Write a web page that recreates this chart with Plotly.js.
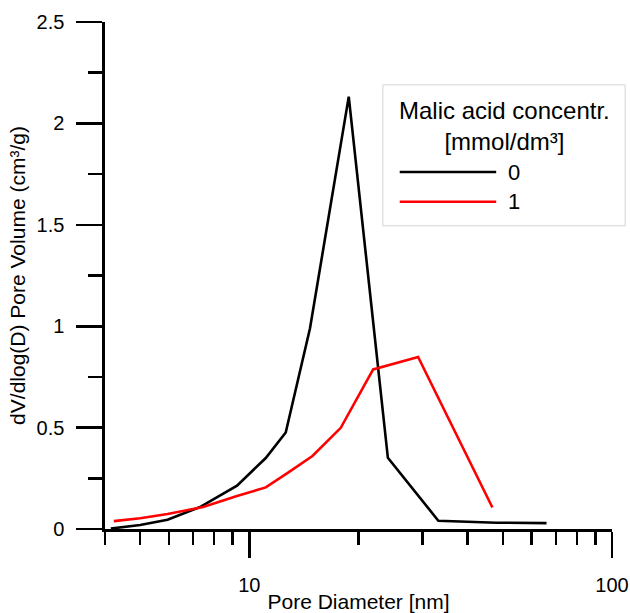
<!DOCTYPE html>
<html>
<head>
<meta charset="utf-8">
<script src="https://cdn.plot.ly/plotly-3.0.1.min.js"></script>
<style>html,body{margin:0;padding:0;background:#fff;}#chart{width:630px;height:613px;}</style>
</head>
<body>
<div id="chart"></div>
<script>
// Series: Malic acid concentration 0 mmol/dm3
const x0 = [4.15, 5.0, 5.95, 7.35, 9.25, 11.1, 12.6, 14.7, 18.8, 24.1, 33.2, 48.0, 66.0];
const y0 = [0.002, 0.02, 0.046, 0.11, 0.214, 0.35, 0.476, 0.99, 2.132, 0.351, 0.041, 0.031, 0.029];
// Series: Malic acid concentration 1 mmol/dm3
const x1 = [4.23, 5.0, 5.95, 7.46, 9.2, 11.1, 12.7, 14.93, 17.87, 21.95, 29.2, 46.8];
const y1 = [0.039, 0.053, 0.074, 0.108, 0.162, 0.205, 0.274, 0.36, 0.499, 0.787, 0.848, 0.106];
const seriesNames = ["0", "1"];
const seriesColors = ["#000000", "#ff0000"];
const legendTitle = "Malic acid concentr.<br>[mmol/dm³]";
const xTitle = "Pore Diameter [nm]";
const yTitle = "dV/dlog(D) Pore Volume (cm³/g)";
const xMajorTicks = [10, 100];
const xMinorTicks = [4, 5, 6, 7, 8, 9, 20, 30, 40, 50, 60, 70, 80, 90];
const yMajorTicks = [0, 0.5, 1, 1.5, 2, 2.5];
const yMinorTicks = [0.25, 0.75, 1.25, 1.75, 2.25];

const font = "Liberation Sans, Arial, sans-serif";

const traces = [
  {x: x0, y: y0, name: seriesNames[0], mode: "lines", line: {color: seriesColors[0], width: 2.6}, showlegend: false},
  {x: x1, y: y1, name: seriesNames[1], mode: "lines", line: {color: seriesColors[1], width: 2.6}, showlegend: false}
];

// legend drawn in paper coordinates
const lx0 = 0.548, lx1 = 1.026, ly0 = 0.598, ly1 = 0.876;
const entryY = [0.704, 0.6456];
const shapes = [
  {type: "rect", xref: "paper", yref: "paper", x0: lx0, x1: lx1, y0: ly0, y1: ly1,
   line: {color: "#d4d4d4", width: 1}, fillcolor: "rgba(255,255,255,1)", layer: "above"}
];
const annotations = [
  {xref: "paper", yref: "paper", x: 0.787, y: 0.7939, text: legendTitle, showarrow: false,
   xanchor: "center", yanchor: "middle", align: "center", font: {family: font, size: 24, color: "#000"}}
];
seriesNames.forEach((n, i) => {
  shapes.push({type: "line", xref: "paper", yref: "paper", x0: 0.5813, x1: 0.7716, y0: entryY[i], y1: entryY[i],
    line: {color: seriesColors[i], width: 2.6}, layer: "above"});
  annotations.push({xref: "paper", yref: "paper", x: 0.790, y: entryY[i], text: n, showarrow: false,
    xanchor: "left", yanchor: "middle", font: {family: font, size: 22, color: "#000"}});
});

const layout = {
  width: 630, height: 613,
  margin: {l: 105, r: 18, t: 22, b: 84, pad: 0},
  paper_bgcolor: "#fff", plot_bgcolor: "#fff",
  font: {family: font, color: "#000", size: 20},
  showlegend: false,
  xaxis: {
    type: "log", range: [Math.log10(4), 2],
    showgrid: false, zeroline: false,
    showline: true, linecolor: "#000", linewidth: 2.6,
    tickmode: "array", tickvals: xMajorTicks, ticktext: xMajorTicks.map(String),
    ticks: "outside", ticklen: 26, tickwidth: 2.6, tickcolor: "#000",
    ticklabelstandoff: 10,
    tickfont: {family: font, size: 20, color: "#000"},
    minor: {tickmode: "array", tickvals: xMinorTicks, ticks: "outside", ticklen: 13, tickwidth: 2.6, tickcolor: "#000", showgrid: false},
    title: {text: xTitle, font: {family: font, size: 21, color: "#000"}, standoff: 4}
  },
  yaxis: {
    range: [0, 2.5],
    showgrid: false, zeroline: false,
    showline: true, linecolor: "#000", linewidth: 2.6,
    tickmode: "array", tickvals: yMajorTicks, ticktext: yMajorTicks.map(String),
    ticks: "outside", ticklen: 26, tickwidth: 2.6, tickcolor: "#000",
    ticklabelstandoff: 8,
    tickfont: {family: font, size: 20, color: "#000"},
    minor: {tickmode: "array", tickvals: yMinorTicks, ticks: "outside", ticklen: 14, tickwidth: 2.6, tickcolor: "#000", showgrid: false},
    title: {text: yTitle, font: {family: font, size: 21, color: "#000"}, standoff: 6}
  },
  shapes: shapes,
  annotations: annotations
};

Plotly.newPlot("chart", traces, layout, {displayModeBar: false, staticPlot: true});
</script>
</body>
</html>
